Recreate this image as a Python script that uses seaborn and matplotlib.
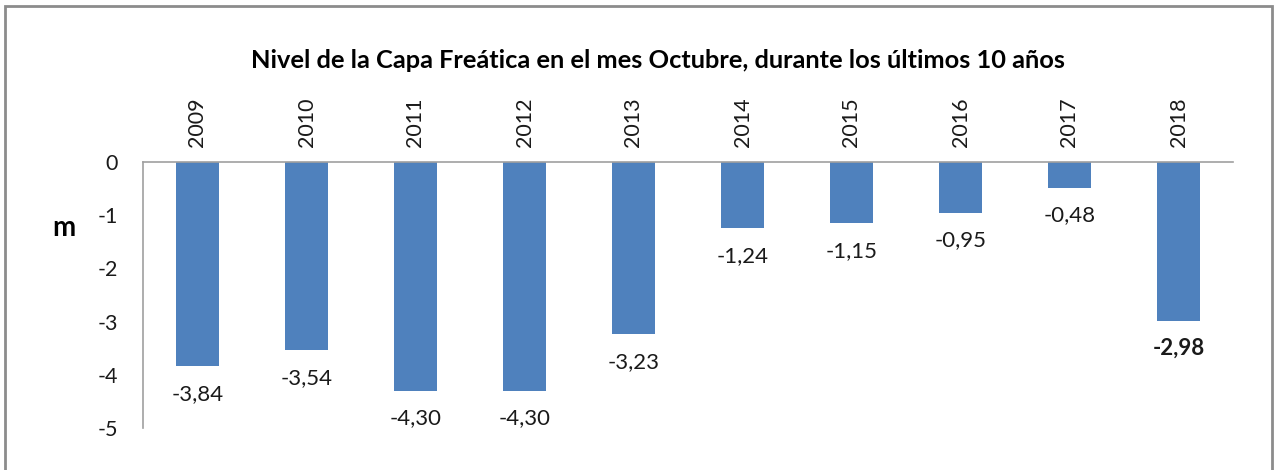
import matplotlib
matplotlib.use("Agg")
import matplotlib.pyplot as plt
import seaborn as sns
import pandas as pd
from matplotlib.patches import Rectangle

years = ["2009", "2010", "2011", "2012", "2013", "2014", "2015", "2016", "2017", "2018"]
values = [-3.84, -3.54, -4.30, -4.30, -3.23, -1.24, -1.15, -0.95, -0.48, -2.98]
title = "Nivel de la Capa Freática en el mes Octubre, durante los últimos 10 años"
ylabel = "m"
yticks = [0, -1, -2, -3, -4, -5]

sns.set_theme(style="white")
plt.rcParams['font.family'] = ['Lato', 'DejaVu Sans']

df = pd.DataFrame({"year": years, "value": values})

fig = plt.figure(figsize=(12.81, 4.70), dpi=100)
ax = fig.add_axes([143/1281, 1 - 428/470, (1233-143)/1281, (428-162)/470])

sns.barplot(data=df, x="year", y="value", color="#4F81BD", width=0.4,
            saturation=1, ax=ax, edgecolor="none")

ax.set_ylim(-5, 0)
ax.set_yticks(yticks)
ax.set_yticklabels([str(v) for v in yticks], fontsize=15.5, color="#1a1a1a")
ax.xaxis.tick_top()
ax.set_xticks(range(len(years)))
ax.set_xticklabels(years, rotation=90, fontsize=15.5, color="#1a1a1a")
ax.tick_params(axis="x", length=0, pad=11)
ax.tick_params(axis="y", length=0, pad=18)
ax.set_xlabel("")
ax.set_ylabel("")

for s in ["right", "bottom"]:
    ax.spines[s].set_visible(False)
for s in ["top", "left"]:
    ax.spines[s].set_color("#A0A0A0")
    ax.spines[s].set_linewidth(1.2)

for i, v in enumerate(values):
    label = f"{v:.2f}".replace(".", ",")
    bold = (i == len(values) - 1)
    ax.annotate(label, xy=(i, v), xytext=(0, -20), textcoords="offset points",
                ha="center", va="center", fontsize=16,
                fontweight="bold" if bold else "normal", color="#1a1a1a")

fig.text(64/1281, 1 - 228/470, ylabel, fontsize=20, fontweight="bold",
         ha="center", va="center", color="black")
fig.text(658/1281, 1 - 60/470, title, fontsize=18.3, fontweight="bold",
         ha="center", va="center", color="black")

fig.patches.append(Rectangle((5/1281, -0.05), (1272-5)/1281, 1 - 6/470 + 0.05,
                             transform=fig.transFigure, fill=False,
                             edgecolor="#8C8C8C", linewidth=2))

fig.savefig("out.png", dpi=100)
